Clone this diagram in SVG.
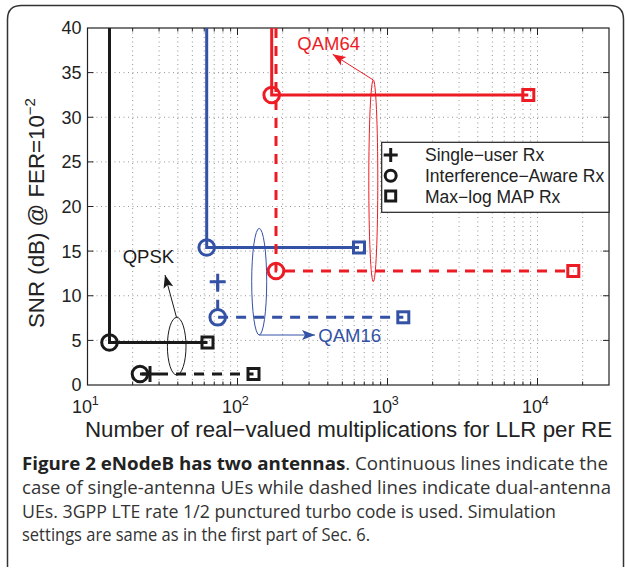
<svg xmlns="http://www.w3.org/2000/svg" width="625" height="568" viewBox="0 0 625 568">
<style>
.grid{stroke:#666;stroke-width:0.7;stroke-dasharray:1 3.5;fill:none}
.axis{stroke:#222;stroke-width:1.2;fill:none}
.tick{stroke:#222;stroke-width:1;fill:none}
.tl{font-family:"Liberation Sans",Arial,sans-serif;font-size:18px;fill:#222}
.sup{font-family:"Liberation Sans",Arial,sans-serif;font-size:12.5px;fill:#222}
.lab{font-family:"Liberation Sans",Arial,sans-serif;font-size:22.3px;fill:#222}
.leg{font-family:"Liberation Sans",Arial,sans-serif;font-size:17.5px;fill:#222}
.note{font-family:"Liberation Sans",Arial,sans-serif;font-size:18.5px}
.k{stroke:#1a1a1a}
.b{stroke:#3352a5}
.r{stroke:#ed1c24}
.ln{fill:none;stroke-width:3}
.dash{stroke-dasharray:10 8}
.mk{fill:none;stroke-width:3}
.ann{fill:none;stroke-width:1}
.cap{font-family:"Open Sans","Noto Sans",sans-serif;font-size:18.3px;fill:#333}
</style>
<defs>
<marker id="ak" viewBox="-14 -6 15 12" refX="0" refY="0" markerWidth="15" markerHeight="12" markerUnits="userSpaceOnUse" orient="auto"><path d="M0,0 L-13,-5 L-10,0 L-13,5 z" fill="#1a1a1a"/></marker>
<marker id="ab" viewBox="-14 -6 15 12" refX="0" refY="0" markerWidth="15" markerHeight="12" markerUnits="userSpaceOnUse" orient="auto"><path d="M0,0 L-13,-5 L-10,0 L-13,5 z" fill="#3352a5"/></marker>
<marker id="ar" viewBox="-14 -6 15 12" refX="0" refY="0" markerWidth="15" markerHeight="12" markerUnits="userSpaceOnUse" orient="auto"><path d="M0,0 L-13,-5 L-10,0 L-13,5 z" fill="#ed1c24"/></marker>
</defs>
<rect width="625" height="568" fill="#fff"/>
<path id="frame" d="M7.5 567V19.5Q7.5 5.5 21.5 5.5H610Q623.5 5.5 623.5 19.5V567" fill="none" stroke="#333" stroke-width="1.5"/>
<g id="grid">
<path class="grid" d="M132.65 28V385M159.07 28V385M177.81 28V385M192.35 28V385M204.22 28V385M214.26 28V385M222.95 28V385M230.64 28V385M237.5 28V385M282.65 28V385M309.07 28V385M327.81 28V385M342.35 28V385M354.22 28V385M364.26 28V385M372.95 28V385M380.64 28V385M387.5 28V385M432.65 28V385M459.07 28V385M477.81 28V385M492.35 28V385M504.22 28V385M514.26 28V385M522.95 28V385M530.64 28V385M537.5 28V385M582.65 28V385"/>
<path class="grid" d="M87.5 340.4H609M87.5 295.75H609M87.5 251.1H609M87.5 206.5H609M87.5 161.9H609M87.5 117.25H609M87.5 72.6H609"/>
</g>
<g id="axes">
<rect class="axis" x="87.5" y="28" width="521.5" height="357"/>
<path class="tick" d="M132.65 385v-3.5M159.07 385v-3.5M177.81 385v-3.5M192.35 385v-3.5M204.22 385v-3.5M214.26 385v-3.5M222.95 385v-3.5M230.64 385v-3.5M237.5 385v-7M282.65 385v-3.5M309.07 385v-3.5M327.81 385v-3.5M342.35 385v-3.5M354.22 385v-3.5M364.26 385v-3.5M372.95 385v-3.5M380.64 385v-3.5M387.5 385v-7M432.65 385v-3.5M459.07 385v-3.5M477.81 385v-3.5M492.35 385v-3.5M504.22 385v-3.5M514.26 385v-3.5M522.95 385v-3.5M530.64 385v-3.5M537.5 385v-7M582.65 385v-3.5"/>
<path class="tick" d="M132.65 28v3.5M159.07 28v3.5M177.81 28v3.5M192.35 28v3.5M204.22 28v3.5M214.26 28v3.5M222.95 28v3.5M230.64 28v3.5M237.5 28v7M282.65 28v3.5M309.07 28v3.5M327.81 28v3.5M342.35 28v3.5M354.22 28v3.5M364.26 28v3.5M372.95 28v3.5M380.64 28v3.5M387.5 28v7M432.65 28v3.5M459.07 28v3.5M477.81 28v3.5M492.35 28v3.5M504.22 28v3.5M514.26 28v3.5M522.95 28v3.5M530.64 28v3.5M537.5 28v7M582.65 28v3.5"/>
<path class="tick" d="M87.5 340.4h6M87.5 295.75h6M87.5 251.1h6M87.5 206.5h6M87.5 161.9h6M87.5 117.25h6M87.5 72.6h6M609 340.4h-6M609 295.75h-6M609 251.1h-6M609 206.5h-6M609 161.9h-6M609 117.25h-6M609 72.6h-6"/>
<g text-anchor="end" class="tl">
<text x="81.5" y="34.4">40</text>
<text x="81.5" y="79">35</text>
<text x="81.5" y="123.6">30</text>
<text x="81.5" y="168.3">25</text>
<text x="81.5" y="212.9">20</text>
<text x="81.5" y="257.5">15</text>
<text x="81.5" y="302.1">10</text>
<text x="81.5" y="346.8">5</text>
<text x="81.5" y="391.4">0</text>
</g>
<g class="tl" text-anchor="middle">
<text x="82" y="413.3">10</text>
<text x="232" y="413.3">10</text>
<text x="382" y="413.3">10</text>
<text x="532" y="413.3">10</text>
</g>
<g class="sup">
<text x="91.8" y="405">1</text>
<text x="241.8" y="405">2</text>
<text x="391.8" y="405">3</text>
<text x="541.8" y="405">4</text>
</g>
<text class="lab" x="85" y="436.5" textLength="527" lengthAdjust="spacingAndGlyphs">Number of real−valued multiplications for LLR per RE</text>
<text class="lab" transform="translate(43.5,328) rotate(-90)">SNR (dB) @ FER=10<tspan font-size="15" dy="-9">−2</tspan></text>
</g>
<g id="connectors">
<path class="ln k" d="M109.5 28V342.5H207.5"/>
<path class="ln k dash" d="M150 374H140M140 374H253.5"/>
<path class="ln b" d="M206.7 28V247.5H359"/>
<path class="ln b dash" d="M217.7 281.7V317.3H403.3"/>
<path class="ln r" d="M271.7 28V95H528.3"/>
<path class="ln r dash" d="M276 28V271H573.3"/>
</g>
<g id="qpsk">
<circle class="mk k" cx="109.5" cy="342.5" r="7.8"/>
<rect class="mk k" x="202" y="337" width="11" height="11"/>
<circle class="mk k" cx="140" cy="374" r="7.8"/>
<path class="mk k" d="M142 374H158M150 366V382"/>
<rect class="mk k" x="248" y="368.5" width="11" height="11"/>
<ellipse class="ann k" cx="176.7" cy="346.2" rx="9.3" ry="28.8"/>
<path class="ann k" d="M176.5 317.4L165 275" marker-end="url(#ak)"/>
<text class="note" x="122.7" y="263.3" fill="#1a1a1a">QPSK</text>
</g>
<g id="qam16">
<circle class="mk b" cx="206.7" cy="247.5" r="7.8"/>
<rect class="mk b" x="353.5" y="242" width="11" height="11"/>
<path class="mk b" d="M209.7 281.7H225.7M217.7 273.7V289.7"/>
<circle class="mk b" cx="217.7" cy="317.3" r="7.8"/>
<rect class="mk b" x="397.8" y="311.8" width="11" height="11"/>
<ellipse class="ann b" cx="259.2" cy="281.7" rx="7.5" ry="53.3"/>
<path class="ann b" d="M259.2 335H315" marker-end="url(#ab)"/>
<text class="note" x="318.3" y="341.7" fill="#3352a5">QAM16</text>
</g>
<g id="qam64">
<circle class="mk r" cx="271.7" cy="95" r="7.8"/>
<rect class="mk r" x="522.8" y="89.5" width="11" height="11"/>
<circle class="mk r" cx="276" cy="271" r="7.8"/>
<rect class="mk r" x="567.8" y="265.5" width="11" height="11"/>
<ellipse class="ann r" cx="373.3" cy="180.8" rx="4.5" ry="100.8"/>
<path class="ann r" d="M373.3 80L332.7 54.3" marker-end="url(#ar)"/>
<text class="note" x="297.3" y="50" fill="#ed1c24">QAM64</text>
</g>
<g id="legend">
<rect x="381.7" y="142.3" width="227.3" height="70" fill="#fff" stroke="#222" stroke-width="1.2"/>
<path class="mk k" d="M383.7 155H397.7M390.7 148V162"/>
<circle class="mk k" cx="390.7" cy="175.7" r="5.5"/>
<rect class="mk k" x="385.7" y="191" width="10" height="10"/>
<text class="leg" x="425" y="161">Single−user Rx</text>
<text class="leg" x="425" y="182.3">Interference−Aware Rx</text>
<text class="leg" x="425" y="202.7">Max−log MAP Rx</text>
</g>
<g id="caption">
<text class="cap" x="22" y="470" textLength="586" lengthAdjust="spacingAndGlyphs"><tspan font-weight="bold" fill="#222">Figure 2 eNodeB has two antennas</tspan>. Continuous lines indicate the</text>
<text class="cap" x="22" y="494" textLength="589" lengthAdjust="spacingAndGlyphs">case of single-antenna UEs while dashed lines indicate dual-antenna</text>
<text class="cap" x="22" y="517.5" textLength="534" lengthAdjust="spacingAndGlyphs">UEs. 3GPP LTE rate 1/2 punctured turbo code is used. Simulation</text>
<text class="cap" x="22" y="541" textLength="348" lengthAdjust="spacingAndGlyphs">settings are same as in the first part of Sec. 6.</text>
</g>
</svg>
